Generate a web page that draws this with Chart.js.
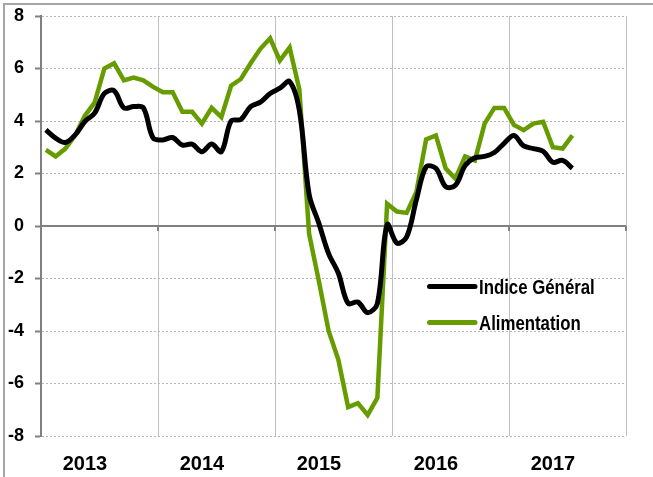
<!DOCTYPE html>
<html><head><meta charset="utf-8">
<script src="https://cdn.jsdelivr.net/npm/chart.js@4"></script>
<style>html,body{margin:0;padding:0;background:#fff}canvas{display:block}</style>
</head><body>
<canvas id="c" width="653" height="477" style="width:653px;height:477px"></canvas>
<script>
const years = ['2013', '2014', '2015', '2016', '2017'];
const seriesNames = ['Indice Général', 'Alimentation'];
const indiceGeneral = [3.66, 3.35, 3.18, 3.47, 3.98, 4.3, 5.05, 5.15, 4.5, 4.55, 4.5, 3.35,
  3.28, 3.37, 3.08, 3.12, 2.83, 3.12, 2.83, 4.0, 4.06, 4.55, 4.72, 5.05,
  5.25, 5.5, 4.4, 1.2, 0.1, -1.05, -1.8, -2.95, -2.9, -3.3, -2.95, 0.05,
  -0.65, -0.42, 1.0, 2.25, 2.2, 1.5, 1.55, 2.3, 2.6, 2.65, 2.8, 3.15,
  3.45, 3.05, 2.95, 2.85, 2.43, 2.5, 2.2];
const alimentation = [2.9, 2.65, 2.95, 3.45, 4.2, 4.7, 6.0, 6.2, 5.55, 5.65, 5.55, 5.3,
  5.1, 5.1, 4.35, 4.35, 3.9, 4.5, 4.15, 5.35, 5.6, 6.2, 6.75, 7.15,
  6.3, 6.8, 5.2, -0.3, -2.1, -4.0, -5.1, -6.9, -6.75, -7.2, -6.55, 0.85,
  0.55, 0.5, 1.3, 3.3, 3.45, 2.2, 1.8, 2.65, 2.5, 3.9, 4.5, 4.5,
  3.85, 3.65, 3.9, 3.97, 3.0, 2.95, 3.45];
const yMin = -8, yMax = 8, yStep = 2;

const months = [];
years.forEach(y => { for (let m = 1; m <= 12; m++) months.push(y + '-' + String(m).padStart(2, '0')); });

const FONT = "'Liberation Sans Narrow','Arial Narrow','Liberation Sans',Arial,sans-serif";
const GREEN = '#669c00';

const decor = {
  id: 'decor',
  beforeDraw(chart) {
    const ctx = chart.ctx;
    ctx.save();
    ctx.fillStyle = '#fff';
    ctx.fillRect(0, 0, chart.width, chart.height);
    ctx.strokeStyle = '#a6a6a6';
    ctx.lineWidth = 2;
    ctx.beginPath();
    ctx.moveTo(4, chart.height + 2);
    ctx.lineTo(4, 4);
    ctx.lineTo(chart.width + 2, 4);
    ctx.stroke();
    ctx.restore();
  },
  beforeDatasetsDraw(chart) {
    const ctx = chart.ctx, xs = chart.scales.x, ys = chart.scales.y, a = chart.chartArea;
    const y0 = ys.getPixelForValue(0);
    const w = xs.getPixelForValue(1) - xs.getPixelForValue(0);
    ctx.save();
    ctx.strokeStyle = '#808080';
    ctx.lineWidth = 2;
    ctx.beginPath();
    ctx.moveTo(a.left, y0); ctx.lineTo(a.right, y0);
    for (let i = 0; i <= months.length; i += 12) {
      const x = Math.round(xs.getPixelForValue(0) + (i - 0.5) * w);
      ctx.moveTo(x, y0); ctx.lineTo(x, y0 + 5);
    }
    ctx.stroke();
    ctx.restore();
  },
  afterDraw(chart) {
    const ctx = chart.ctx;
    chart.data.datasets.forEach((ds, i) => {
      const y = 286.5 + 36 * i;
      ctx.save();
      ctx.strokeStyle = ds.borderColor;
      ctx.lineWidth = 5;
      ctx.lineCap = 'round';
      ctx.beginPath(); ctx.moveTo(429.5, y); ctx.lineTo(475, y); ctx.stroke();
      ctx.fillStyle = '#000';
      ctx.font = 'bold 20px ' + FONT;
      ctx.textBaseline = 'alphabetic';
      ctx.translate(479, y + 7.5);
      ctx.scale(0.84, 1);
      ctx.fillText(ds.label, 0, 0);
      ctx.restore();
    });
  }
};

new Chart(document.getElementById('c'), {
  type: 'line',
  data: {
    labels: months,
    datasets: [
      { label: seriesNames[0], data: indiceGeneral, borderColor: '#000000', borderWidth: 5, pointRadius: 0, tension: 0.35, order: 0 },
      { label: seriesNames[1], data: alimentation, borderColor: GREEN, borderWidth: 4.5, pointRadius: 0, tension: 0, order: 1 }
    ]
  },
  options: {
    responsive: false,
    animation: false,
    devicePixelRatio: 1,
    layout: { padding: { top: 16, right: 27, left: 0, bottom: 0 } },
    plugins: { legend: { display: false }, tooltip: { enabled: false } },
    scales: {
      x: {
        type: 'category',
        offset: true,
        afterFit: s => { s.height = 41; s.paddingLeft = 0; s.paddingRight = 0; },
        border: { display: false },
        grid: {
          offset: true,
          drawTicks: false,
          lineWidth: 1,
          color: c => (c.type !== 'tick' || c.index % 12 === 0) ? '#c0c0c0' : 'rgba(0,0,0,0)'
        },
        ticks: {
          autoSkip: false, maxRotation: 0, minRotation: 0, padding: 16,
          color: '#000', font: { family: FONT, size: 20, weight: 'bold' },
          callback: (v, i) => (i % 12 === 4 ? years[Math.floor(i / 12)] : '')
        }
      },
      y: {
        min: yMin, max: yMax,
        afterFit: s => { s.width = 41; s.paddingTop = 0; s.paddingBottom = 0; },
        border: { display: true, color: '#808080', width: 2, dash: [2, 2] },
        grid: { color: '#b4b4b4', lineWidth: 1, drawTicks: true, tickLength: 6, tickColor: '#808080', tickWidth: 2, tickBorderDash: [] },
        ticks: { stepSize: yStep, padding: 11, color: '#000', font: { family: FONT, size: 18, weight: 'bold' } }
      }
    }
  },
  plugins: [decor]
});
</script>
</body></html>
